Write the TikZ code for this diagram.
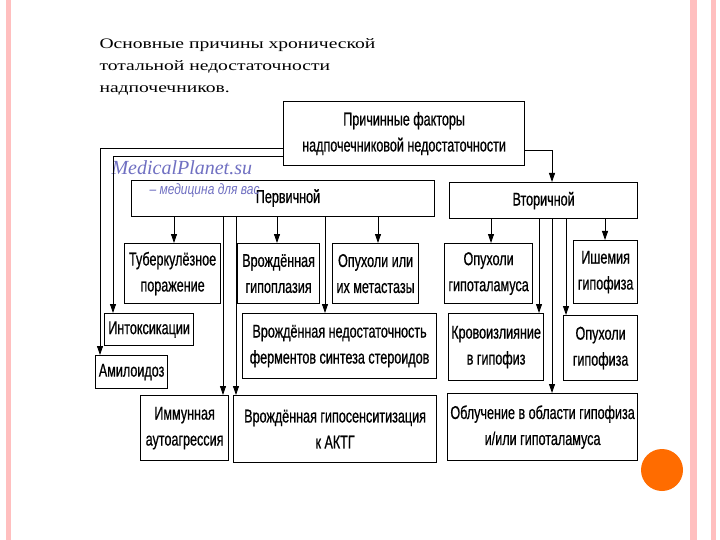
\documentclass[tikz,border=0pt]{standalone}
\usepackage{fontspec}
\setmainfont{Liberation Serif}
\newfontfamily\narrow[FakeStretch=0.68,FakeBold=0.6]{Liberation Sans}
\newfontfamily\wmf[FakeStretch=0.8]{Liberation Sans}
\newfontfamily\ttl[FakeStretch=1.35]{Liberation Serif}
\usetikzlibrary{arrows.meta}
\begin{document}
\begin{tikzpicture}[x=1pt,y=-1pt,
  bx/.style={draw,line width=1.2pt,font=\narrow\fontsize{18.5}{26}\selectfont,align=center,inner sep=0pt,anchor=north west},
  ar/.style={-{Triangle[length=9pt,width=6pt]},line width=0.8pt}]
\useasboundingbox (0,0) rectangle (720,540);
\fill[white] (0,0) rectangle (720,540);
\fill[red!25] (6,0) rectangle (11,540);
\fill[red!25] (690,0) rectangle (697,540);
\fill[red!25] (711,0) rectangle (716,540);
\fill[orange!85!red] (662,470) circle (21);
\node[anchor=north west,align=left,font=\ttl\fontsize{14.5}{22}\selectfont] (title) at (96,35)
 {Основные причины хронической\\тотальной недостаточности\\надпочечников.};
% boxes
\newcommand\bxx[6]{\node[bx,minimum width=#4-#2,minimum height=#5-#3] (#1) at (#2,#3) {#6};}
\bxx{top}{283}{101}{524}{165}{Причинные факторы\\надпочечниковой недостаточности}
\bxx{prim}{131}{180}{434}{216}{}
\node[font=\narrow\fontsize{18.5}{26}\selectfont] (primt) at (288,198) {Первичной};
\bxx{sec}{449}{182}{637}{218}{Вторичной}
\bxx{tub}{124}{243}{220}{303}{Туберкулёзное\\поражение}
\bxx{hyp}{237}{243}{319}{303}{Врождённая\\гипоплазия}
\bxx{tum}{332}{243}{418}{303}{Опухоли или\\их метастазы}
\bxx{intox}{104}{313}{193}{345}{Интоксикации}
\bxx{amyl}{95}{355}{167}{388}{Амилоидоз}
\bxx{enz}{242}{313}{436}{378}{Врождённая недостаточность\\ферментов синтеза стероидов}
\bxx{imm}{140}{395}{228}{460}{Иммунная\\аутоагрессия}
\bxx{acth}{233}{395}{436}{462}{Врождённая гипосенситизация\\к АКТГ}
\bxx{hth}{444}{243}{532}{303}{Опухоли\\гипоталамуса}
\bxx{isch}{573}{240}{637}{303}{Ишемия\\гипофиза}
\bxx{hem}{448}{313}{543}{380}{Кровоизлияние\\в гипофиз}
\bxx{pit}{563}{315}{637}{380}{Опухоли\\гипофиза}
\bxx{irr}{447}{393}{637}{460}{Облучение в области гипофиза\\и/или гипоталамуса}
% watermark
\node[anchor=west,text=blue!40!gray!80,font=\itshape\fontsize{20}{20}\selectfont] (wm1) at (108,168) {MedicalPlanet.su};
\node[anchor=west,text=blue!40!gray!80,font=\wmf\itshape\fontsize{15}{16}\selectfont] (wm2) at (146,191) {– медицина для вас};
% connectors
\draw[ar] (top.east|-0,150) -| (sec.north-|552,0);
\draw[ar] (top.west|-0,148) -| (amyl.north-|100,0);
\draw[ar] (top.west|-0,156) -| (intox.north-|113,0);
\draw[ar] (prim.south-|174,0) -- (tub.north-|174,0);
\draw[ar] (prim.south-|277,0) -- (hyp.north-|277,0);
\draw[ar] (prim.south-|378,0) -- (tum.north-|378,0);
\draw[ar] (prim.south-|223,0) -- (imm.north-|223,0);
\draw[ar] (prim.south-|236,0) -- (acth.north-|236,0);
\draw[ar] (prim.south-|325,0) -- (enz.north-|325,0);
\draw[ar] (sec.south-|491,0) -- (hth.north-|491,0);
\draw[ar] (sec.south-|539,0) -- (hem.north-|539,0);
\draw[ar] (sec.south-|552,0) -- (irr.north-|552,0);
\draw[ar] (sec.south-|566,0) -- (pit.north-|566,0);
\draw[ar] (sec.south-|605,0) -- (isch.north-|605,0);
\end{tikzpicture}
\end{document}
